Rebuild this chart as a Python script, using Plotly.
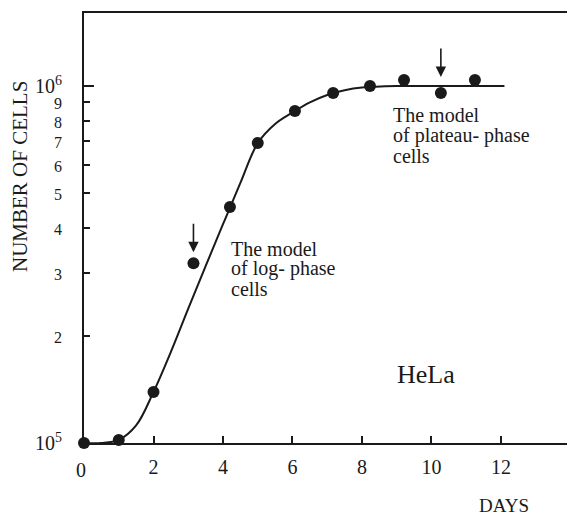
import math
import plotly.graph_objects as go

# Observed data (days, number of cells)
days_obs = [0, 1.0, 2.0, 3.15, 4.2, 5.0, 6.07, 7.17, 8.23, 9.21, 10.27, 11.25]
cells_obs = [1.0e5, 1.02e5, 1.39e5, 3.19e5, 4.58e5, 6.92e5, 8.51e5, 9.56e5, 1.0e6, 1.04e6, 9.56e5, 1.04e6]

# Fitted growth curve
days_fit = [0, 0.5, 1.0, 1.5, 2.0, 2.5, 3.0, 3.5, 4.0, 4.5, 5.0, 5.5, 6.0, 6.5, 7.0, 7.5, 8.0, 9.0, 10.0, 11.0, 12.1]
cells_fit = [1.0e5, 1.0e5, 1.02e5, 1.12e5, 1.39e5, 1.80e5, 2.38e5, 3.13e5, 4.1e5, 5.35e5, 6.92e5, 7.83e5,
             8.43e5, 9.0e5, 9.44e5, 9.73e5, 9.9e5, 1.0e6, 1.0e6, 1.0e6, 1.0e6]

# Axis ticks
x_tickvals = [0, 2, 4, 6, 8, 10, 12]
x_ticktext = ["0", "2", "4", "6", "8", "10", "12"]
y_tickvals = [1e5, 2e5, 3e5, 4e5, 5e5, 6e5, 7e5, 8e5, 9e5, 1e6]
y_ticktext = ["10<sup>5</sup>", "2", "3", "4", "5", "6", "7", "8", "9", "10<sup>6</sup>"]

# Arrow targets (indices into observed data)
arrow_idx = [3, 10]

FONT = "Liberation Serif"
BLACK = "#1a1a1a"

fig = go.Figure()
fig.add_trace(go.Scatter(x=days_fit, y=cells_fit, mode="lines", line=dict(color=BLACK, width=2, shape="spline"),
                         hoverinfo="skip", showlegend=False))
fig.add_trace(go.Scatter(x=days_obs, y=cells_obs, mode="markers", marker=dict(color=BLACK, size=12),
                         cliponaxis=False, showlegend=False))

small = lambda s: s if "sup" in s else f"<span style='font-size:16px'>{s}</span>"

fig.update_layout(
    width=567, height=518,
    margin=dict(l=84, r=0, t=13, b=75),
    paper_bgcolor="white", plot_bgcolor="white",
    font=dict(family=FONT, color=BLACK, size=20),
    xaxis=dict(range=[0, 13.9], automargin=False, showgrid=False, zeroline=False, showline=True,
               linecolor=BLACK, linewidth=2, mirror=True, tickvals=x_tickvals[1:], ticktext=x_ticktext[1:],
               ticks="inside", ticklen=7, tickwidth=2, tickcolor=BLACK,
               tickfont=dict(size=20, family=FONT, color=BLACK), ticklabelstandoff=5),
    yaxis=dict(type="log", range=[5, 6.2045], automargin=False, showgrid=False, zeroline=False, showline=True,
               linecolor=BLACK, linewidth=2, tickvals=y_tickvals, ticktext=[small(t) for t in y_ticktext],
               ticks="inside", ticklen=6, tickwidth=2, tickcolor=BLACK,
               tickfont=dict(size=20, family=FONT, color=BLACK), ticklabelstandoff=16,
               minor=dict(tickvals=[1e6], ticklen=10, tickwidth=2, tickcolor=BLACK, ticks="inside")),
)

# x tick label "0" (kept separate so no tick mark is drawn on the y axis)
fig.add_annotation(x=x_tickvals[0], y=0, xref="x", yref="paper", text=x_ticktext[0], showarrow=False,
                   xanchor="center", yanchor="middle", yshift=-27, xshift=-3,
                   font=dict(size=20, family=FONT, color=BLACK))

# Axis titles
fig.add_annotation(x=(504 - 84) / 483, y=(443 - 518) / 430, xref="paper", yref="paper", text="DAYS",
                   xanchor="center", yanchor="bottom", showarrow=False,
                   font=dict(size=19, family=FONT, color=BLACK))
fig.add_annotation(x=(20 - 84) / 483, y=(443 - 177) / 430, xref="paper", yref="paper", text="NUMBER OF CELLS",
                   xanchor="center", yanchor="middle", textangle=-90, showarrow=False,
                   font=dict(size=21, family=FONT, color=BLACK))

# Arrows pointing at the two model samples
for i, (ay, st) in zip(arrow_idx, [(-41, 11), (-46, 16)]):
    fig.add_annotation(x=days_obs[i], y=math.log10(cells_obs[i]), xref="x", yref="y", text="",
                       showarrow=True, ax=0, ay=ay, arrowhead=2, arrowsize=1.3, arrowwidth=1.6,
                       arrowcolor=BLACK, standoff=st)

def text_lines(lines, left_px, first_center_px, step, size):
    for k, t in enumerate(lines):
        fig.add_annotation(x=(left_px - 84) / 483, y=(443 - (first_center_px + k * step)) / 430,
                           xref="paper", yref="paper", text=t, showarrow=False, xanchor="left",
                           yanchor="middle", font=dict(size=size, family=FONT, color=BLACK))

text_lines(["The model", "of log- phase", "cells"], 229, 248.5, 20, 20)
text_lines(["The model", "of plateau- phase", "cells"], 391, 115.5, 20, 20)
text_lines(["HeLa"], 395, 374, 0, 26)

fig.write_html("out.html", config={"displayModeBar": False},
               post_script="document.body.style.margin='0';document.body.style.overflow='hidden';")
